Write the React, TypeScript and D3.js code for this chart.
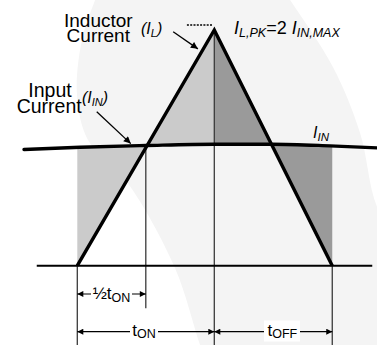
import React from "react";
import * as d3 from "d3";

const W = 377;
const H = 345;

// Time in units of t_ON, current in units of I_IN,MAX
const phaseNames = ["ON", "OFF"];
const phaseDurations = [1, 0.861];
const peakCurrent = 2; // I_L,PK = 2 I_IN,MAX

// Input current (slowly varying)
const inputT = [-0.389, 0.02, 0.501, 0.998, 1.421, 1.845, 2.2];
const inputV = [0.986, 1.005, 1.02, 1.031, 1.031, 1.017, 0.999];

// Background swoosh outline (decoration), in the same units
const swooshLeftT = [0.25, 0.13, 0.034, -0.002, 0.078, 0.363, 0.713, 0.896, 1.0];
const swooshLeftV = [2.6, 2.255, 1.915, 1.448, 1.067, 0.71, -0.02, -0.673, -1.0];
const swooshRightT = [2.4, 2.188, 2.064, 1.866, 1.553, 1.35];
const swooshRightV = [0.1, 0.498, 1.126, 1.686, 2.255, 2.6];

const FONT = "'Liberation Sans', Arial, Helvetica, sans-serif";

export default function App() {
  const x = d3.scaleLinear().domain([0, 1]).range([77.3, 214.3]);
  const y = d3.scaleLinear().domain([0, peakCurrent]).range([265.7, 30]);

  const tOn = phaseDurations[0];
  const tEnd = phaseDurations[0] + phaseDurations[1];

  const iin = inputT.map((t, i) => ({ t, v: inputV[i] }));
  const iinLine = d3
    .line<{ t: number; v: number }>()
    .x((d) => x(d.t))
    .y((d) => y(d.v))
    .curve(d3.curveMonotoneX)(iin)!;
  const iinArea = d3
    .area<{ t: number; v: number }>()
    .x((d) => x(d.t))
    .y0(y(0))
    .y1((d) => y(d.v))
    .curve(d3.curveMonotoneX)(iin)!;

  const triPts: [number, number][] = [
    [x(0), y(0)],
    [x(tOn), y(peakCurrent)],
    [x(tEnd), y(0)],
  ];
  const triLine = d3.line()(triPts)!;
  const xorPath = iinArea + triLine + "Z";

  const lp = d3
    .line<[number, number]>()
    .x((d) => x(d[0]))
    .y((d) => y(d[1]))
    .curve(d3.curveCatmullRom);
  const leftPath = lp(swooshLeftT.map((t, i) => [t, swooshLeftV[i]]))!;
  const rightPath = lp(swooshRightT.map((t, i) => [t, swooshRightV[i]]))!;
  const swoosh =
    leftPath +
    `L${x(2.4)},${y(-1)}` +
    "L" +
    rightPath.slice(1) +
    "Z";

  const yHalf = y(-0.24);
  const yDim = y(-0.56);
  const yHalfEnd = y(-0.361);
  const yBottom = H + 2;
  const yDot = y(2.042);

  const stroke = "#000";
  const vStroke = "#3a3a3a";

  return (
    <svg
      width={W}
      height={H}
      style={{ position: "absolute", left: 0, top: 0, background: "#fff" }}
      fontFamily={FONT}
    >
      <defs>
        <marker
          id="ah"
          viewBox="0 0 10 10"
          refX="10"
          refY="5"
          markerWidth="9"
          markerHeight="7"
          markerUnits="userSpaceOnUse"
          orient="auto-start-reverse"
        >
          <path d="M0,0L10,5L0,10Z" fill="#000" />
        </marker>
        <marker
          id="dh"
          viewBox="0 0 10 10"
          refX="10"
          refY="5"
          markerWidth="7"
          markerHeight="6"
          markerUnits="userSpaceOnUse"
          orient="auto-start-reverse"
        >
          <path d="M0,0L10,5L0,10Z" fill="#000" />
        </marker>
        <clipPath id="clipOn">
          <rect x={x(0)} y={0} width={x(tOn) - x(0)} height={H} />
        </clipPath>
        <clipPath id="clipOff">
          <rect x={x(tOn)} y={0} width={x(tEnd) - x(tOn)} height={H} />
        </clipPath>
      </defs>

      {/* background swoosh */}
      <path d={swoosh} fill="#f4f4f4" />

      {/* shaded charge areas */}
      <path d={xorPath} fillRule="evenodd" fill="#cbcbcb" clipPath="url(#clipOn)" />
      <path d={xorPath} fillRule="evenodd" fill="#9a9a9a" clipPath="url(#clipOff)" />

      {/* vertical reference lines */}
      <line x1={x(0)} x2={x(0)} y1={y(0)} y2={yBottom} stroke={vStroke} strokeWidth={1.3} />
      <line x1={x(0.5)} x2={x(0.5)} y1={y(1.02)} y2={yHalfEnd} stroke={vStroke} strokeWidth={1.3} />
      <line x1={x(tOn)} x2={x(tOn)} y1={y(peakCurrent)} y2={yBottom} stroke={vStroke} strokeWidth={1.3} />
      <line x1={x(tEnd)} x2={x(tEnd)} y1={y(0)} y2={yBottom} stroke={vStroke} strokeWidth={1.3} />

      {/* baseline */}
      <line x1={x(-0.296)} x2={x(2.153)} y1={y(0)} y2={y(0)} stroke={stroke} strokeWidth={2} />

      {/* input current */}
      <path d={iinLine} fill="none" stroke={stroke} strokeWidth={3.4} strokeLinecap="round" />

      {/* inductor current triangle */}
      <path d={triLine} fill="none" stroke={stroke} strokeWidth={3.4} strokeLinejoin="miter" />

      {/* peak dotted line */}
      <line
        x1={x(0.8)}
        x2={x(tOn) - 1}
        y1={yDot}
        y2={yDot}
        stroke="#000"
        strokeWidth={1.4}
        strokeDasharray="2 1.3"
      />

      {/* annotation arrows */}
      <line x1={x(0.7)} y1={y(1.985)} x2={x(0.88)} y2={y(1.84)} stroke="#000" strokeWidth={1.3} markerEnd="url(#ah)" />
      <line x1={x(0.142)} y1={y(1.307)} x2={x(0.39)} y2={y(1.036)} stroke="#000" strokeWidth={1.3} markerEnd="url(#ah)" />

      {/* dimension arrows */}
      <line x1={x(0)} x2={x(0.5)} y1={yHalf} y2={yHalf} stroke="#000" strokeWidth={1.2} markerStart="url(#dh)" markerEnd="url(#dh)" />
      <line x1={x(0)} x2={x(tOn)} y1={yDim} y2={yDim} stroke="#000" strokeWidth={1.2} markerStart="url(#dh)" markerEnd="url(#dh)" />
      <line x1={x(tOn)} x2={x(tEnd)} y1={yDim} y2={yDim} stroke="#000" strokeWidth={1.2} markerStart="url(#dh)" markerEnd="url(#dh)" />

      {/* dimension labels */}
      <rect x={91} y={yHalf - 9} width={41} height={17} fill="#fff" />
      <text x={111.5} y={299} textAnchor="middle" fontSize={17}>
        ½t<tspan fontSize={12.5} dy={3}>{phaseNames[0]}</tspan>
      </text>
      <rect x={130} y={yDim - 10} width={28} height={19} fill="#fff" />
      <text x={144} y={335.5} textAnchor="middle" fontSize={17}>
        t<tspan fontSize={12.5} dy={2.5}>{phaseNames[0]}</tspan>
      </text>
      <rect x={264} y={320.5} width={36} height={21} fill="#fff" />
      <text x={282.3} y={335.5} textAnchor="middle" fontSize={17}>
        t<tspan fontSize={12.5} dy={2.5}>{phaseNames[1]}</tspan>
      </text>

      {/* labels */}
      <text x={98.3} y={26.5} textAnchor="middle" fontSize={19}>Inductor</text>
      <text x={98.3} y={41.5} textAnchor="middle" fontSize={19}>Current</text>
      <text x={141} y={34} fontSize={16} fontStyle="italic">
        (I<tspan fontSize={11} dy={3}>L</tspan>
        <tspan dy={-3}>)</tspan>
      </text>

      <text x={50} y={97} textAnchor="middle" fontSize={19.5}>Input</text>
      <text x={49.2} y={113.3} textAnchor="middle" fontSize={19.5}>Current</text>
      <text x={82} y={103} fontSize={16} fontStyle="italic">
        (I<tspan fontSize={11} dy={3}>IN</tspan>
        <tspan dy={-3}>)</tspan>
      </text>

      <text x={234} y={33.5} fontSize={18}>
        <tspan fontStyle="italic">I</tspan>
        <tspan fontStyle="italic" fontSize={12.5} dy={3}>L,PK</tspan>
        <tspan dy={-3}>=2 </tspan>
        <tspan fontStyle="italic">I</tspan>
        <tspan fontStyle="italic" fontSize={12.5} dy={3}>IN,MAX</tspan>
      </text>

      <text x={313} y={138} fontSize={16} fontStyle="italic">
        I<tspan fontSize={11.5} dy={3}>IN</tspan>
      </text>
    </svg>
  );
}
